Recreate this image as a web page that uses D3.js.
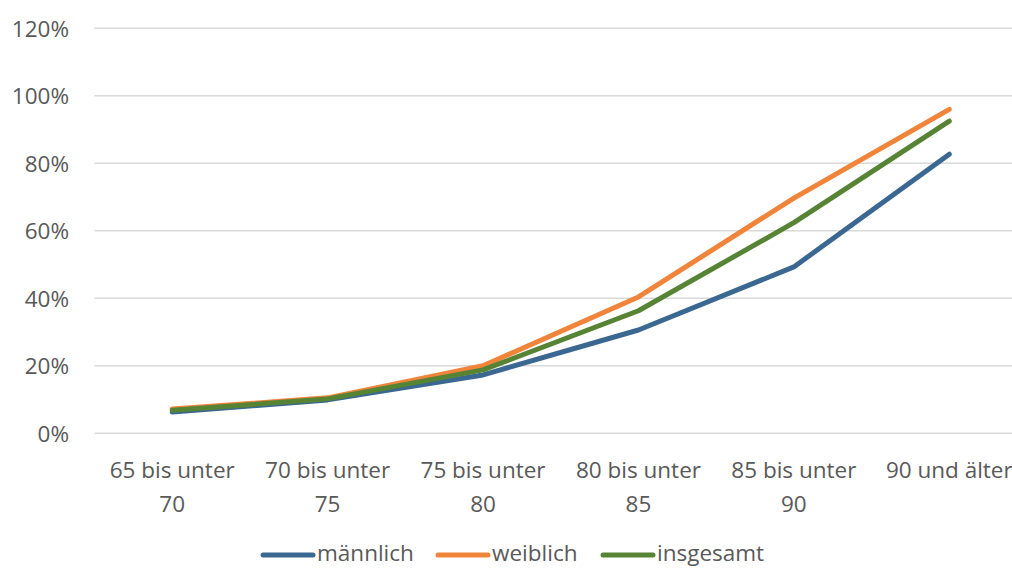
<!DOCTYPE html>
<html><head><meta charset="utf-8">
<script src="https://cdn.jsdelivr.net/npm/d3@7"></script>
<style>html,body{margin:0;padding:0;background:#fff;overflow:hidden}</style>
</head><body>
<svg id="c" width="1012" height="569"></svg>
<script>
const categories = [["65 bis unter","70"],["70 bis unter","75"],["75 bis unter","80"],["80 bis unter","85"],["85 bis unter","90"],["90 und älter"]];
const seriesNames = ["männlich","weiblich","insgesamt"];
const maennlich = [6.3, 9.9, 17.3, 30.6, 49.3, 82.7];
const weiblich  = [7.2, 10.5, 20.0, 40.4, 69.7, 96.0];
const insgesamt = [6.8, 10.2, 18.8, 36.3, 62.4, 92.5];
const yTicks = [0,20,40,60,80,100,120];
const colors = ["#3A6891","#F0843A","#568334"];

const svg = d3.select("#c");
const font = "'Open Sans', 'Noto Sans', sans-serif";
const fs = 22.5;
const x = d3.scaleBand().domain(d3.range(categories.length)).range([94.5,1027]);
const y = d3.scaleLinear().domain([0,120]).range([433.3,28.3]);

// gridlines
svg.append("g").selectAll("line").data(yTicks).join("line")
  .attr("x1",x.range()[0]).attr("x2",x.range()[1])
  .attr("y1",d=>y(d)).attr("y2",d=>y(d))
  .attr("stroke","#D9D9D9").attr("stroke-width",1.5);

// y axis labels
const yAxis = d3.axisLeft(y).tickValues(yTicks).tickFormat(d=>d+"%").tickSize(0).tickPadding(0);
const ya = svg.append("g").attr("transform","translate(69,0)").call(yAxis);
ya.select(".domain").remove();
ya.selectAll("text").attr("font-family",font).attr("font-size",fs).attr("fill","#595959").attr("dy","0.35em");

// x axis labels
const xa = svg.append("g");
categories.forEach((c,i)=>{
  const t = xa.append("text").attr("text-anchor","middle")
    .attr("font-family",font).attr("font-size",fs).attr("fill","#595959");
  c.forEach((line,j)=>{
    t.append("tspan").attr("x",x(i)+x.bandwidth()/2).attr("y",478+j*33.5).text(line);
  });
});

// lines
const data = [maennlich, weiblich, insgesamt];
const lineGen = d3.line().x((d,i)=>x(i)+x.bandwidth()/2).y(d=>y(d));
svg.append("g").selectAll("path").data(data).join("path")
  .attr("d",lineGen).attr("fill","none")
  .attr("stroke",(d,i)=>colors[i]).attr("stroke-width",5)
  .attr("stroke-linejoin","round").attr("stroke-linecap","round");

// legend
const legX = [263, 438, 603];
const lg = svg.append("g");
seriesNames.forEach((n,i)=>{
  lg.append("line").attr("x1",legX[i]).attr("x2",legX[i]+50).attr("y1",555).attr("y2",555)
    .attr("stroke",colors[i]).attr("stroke-width",5).attr("stroke-linecap","round");
  lg.append("text").attr("x",legX[i]+54).attr("y",561).attr("font-family",font)
    .attr("font-size",fs).attr("fill","#595959").text(n);
});
</script>
</body></html>
